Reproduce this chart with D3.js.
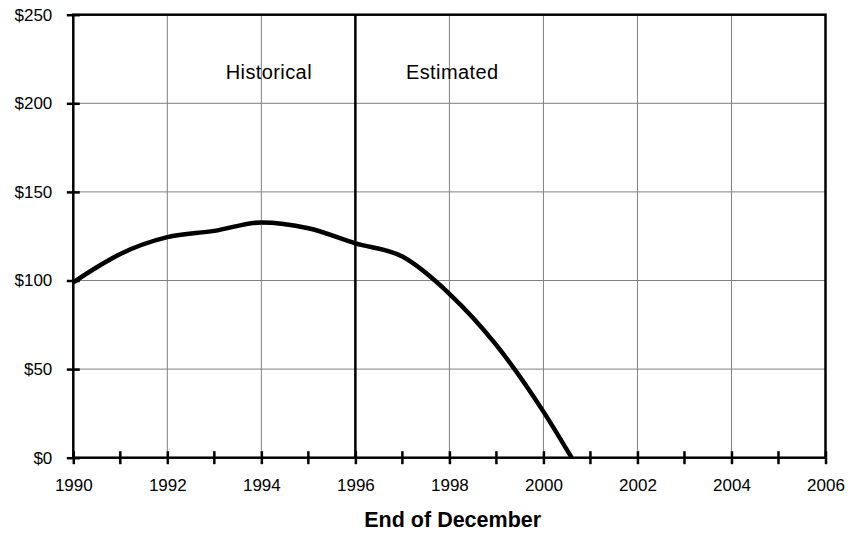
<!DOCTYPE html>
<html><head><meta charset="utf-8">
<script src="https://cdn.jsdelivr.net/npm/d3@7"></script>
<style>body{margin:0;background:#fff}svg{display:block;font-family:"Liberation Sans",Arial,sans-serif}</style>
</head><body>
<svg id="c" width="849" height="533"></svg>
<script>
const years = [1990, 1990.5, 1991, 1992, 1993, 1994, 1995, 1996, 1997, 1998, 1999, 2000, 2000.6];
const values = [99, 107.5, 115, 124.5, 128, 132.8, 129.5, 121, 113.5, 92.5, 63.5, 26, 0];
const xTicks = [1990, 1992, 1994, 1996, 1998, 2000, 2002, 2004, 2006];
const xMinor = [1991, 1993, 1995, 1997, 1999, 2001, 2003, 2005];
const yTicks = [0, 50, 100, 150, 200, 250];
const dividerYear = 1996;
const labels = [{text: "Historical", year: 1994.16}, {text: "Estimated", year: 1998.06}];
const xTitle = "End of December";

const FONT = "'Liberation Sans', Arial, sans-serif";
const svg = d3.select("#c");
const L = 73.3, R = 825.5, T = 14.7, B = 457.7;
const x = d3.scaleLinear().domain([1990, 2006]).range([L, R]);
const y = d3.scaleLinear().domain([0, 250]).range([B, T]);

// grid
svg.append("g").selectAll("line").data(xTicks.slice(1, -1)).join("line")
  .attr("x1", d => x(d)).attr("x2", d => x(d)).attr("y1", T).attr("y2", B)
  .attr("stroke", "#808080").attr("stroke-width", 1);
svg.append("g").selectAll("line").data(yTicks.slice(1, -1)).join("line")
  .attr("x1", L).attr("x2", R).attr("y1", d => y(d)).attr("y2", d => y(d))
  .attr("stroke", "#808080").attr("stroke-width", 1);

// divider
svg.append("line").attr("x1", x(dividerYear)).attr("x2", x(dividerYear))
  .attr("y1", T).attr("y2", B).attr("stroke", "#000").attr("stroke-width", 2.5);

// frame
svg.append("rect").attr("x", L).attr("y", T).attr("width", R - L).attr("height", B - T)
  .attr("fill", "none").attr("stroke", "#000").attr("stroke-width", 2.5);

// x axis
const xa = svg.append("g").attr("transform", `translate(0,${B})`)
  .call(d3.axisBottom(x).tickValues(xTicks).tickFormat(d3.format("d")).tickSize(6.5).tickPadding(15));
xa.select(".domain").remove();
xa.selectAll(".tick line").attr("y1", -6.5).attr("stroke-width", 2.5);
xa.selectAll("text").style("font-size", "17px").style("font-family", FONT).attr("fill", "#000");
svg.append("g").selectAll("line").data(xMinor).join("line")
  .attr("x1", d => x(d)).attr("x2", d => x(d)).attr("y1", B - 6.5).attr("y2", B + 6.5)
  .attr("stroke", "#000").attr("stroke-width", 2.5);

// y axis
const ya = svg.append("g").attr("transform", `translate(${L},0)`)
  .call(d3.axisLeft(y).tickValues(yTicks).tickFormat(d => "$" + d).tickSize(6.5).tickPadding(14.5));
ya.select(".domain").remove();
ya.selectAll(".tick line").attr("x2", 6.5).attr("x1", -6.5).attr("stroke-width", 2.5);
ya.selectAll("text").style("font-size", "17px").style("font-family", FONT).attr("fill", "#000");

// line
svg.append("path").datum(years.map((d, i) => [d, values[i]]))
  .attr("d", d3.line().x(d => x(d[0])).y(d => y(d[1])).curve(d3.curveMonotoneX))
  .attr("fill", "none").attr("stroke", "#000").attr("stroke-width", 4.5).attr("stroke-linejoin", "round");

// labels
svg.append("g").selectAll("text").data(labels).join("text")
  .attr("x", d => x(d.year)).attr("y", 79).attr("text-anchor", "middle")
  .style("font-size", "20px").style("letter-spacing", "0.4px").text(d => d.text);

svg.append("text").attr("x", 452.7).attr("y", 526.5).attr("text-anchor", "middle")
  .style("font-size", "21.5px").style("font-weight", "bold").text(xTitle);
</script>
</body></html>
